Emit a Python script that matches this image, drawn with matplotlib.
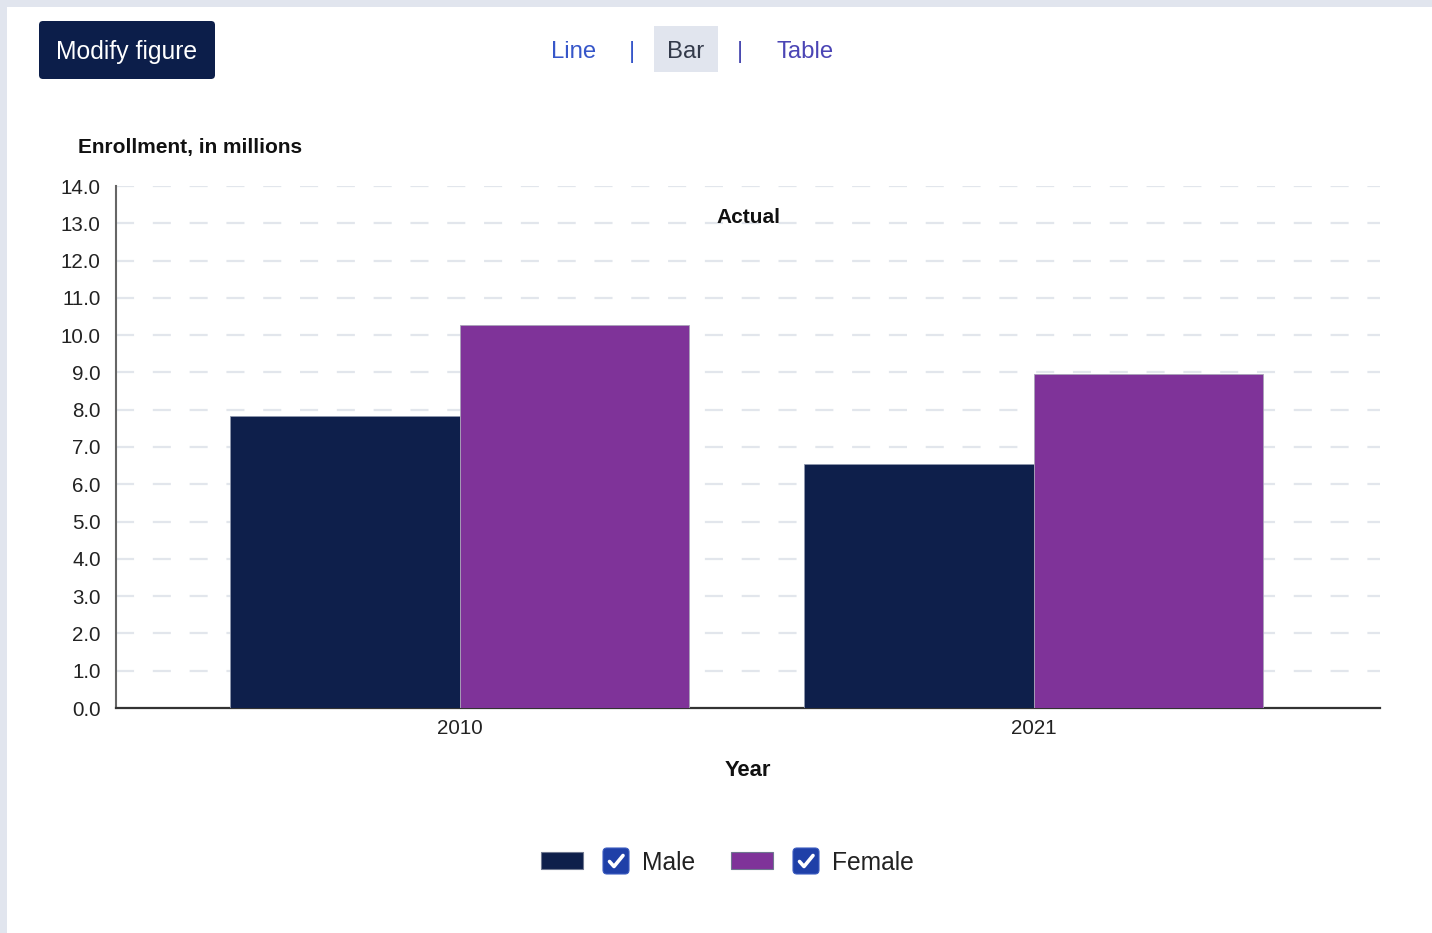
import matplotlib
matplotlib.use("Agg")
import matplotlib.pyplot as plt
from matplotlib.patches import Rectangle, FancyBboxPatch
import numpy as np

# ---- data ----
years = ["2010", "2021"]
male = [7.84, 6.54]
female = [10.26, 8.95]
series_names = ["Male", "Female"]
yticks = [0, 1, 2, 3, 4, 5, 6, 7, 8, 9, 10, 11, 12, 13, 14]

NAVY = "#0e1f4b"
PURPLE = "#7f3399"
PAGE = "#e1e5ee"
FONT = "Liberation Sans"

plt.rcParams["font.family"] = [FONT, "DejaVu Sans"]
plt.rcParams["lines.scale_dashes"] = False

W, H = 1432, 933
fig = plt.figure(figsize=(W / 100, H / 100), dpi=100, facecolor=PAGE)

# background / decoration overlay in pixel coordinates
bg = fig.add_axes([0, 0, 1, 1], zorder=0)
bg.set_xlim(0, W)
bg.set_ylim(H, 0)
bg.axis("off")
bg.add_patch(Rectangle((7, 7), W - 7, H - 7, facecolor="white", edgecolor="none"))

# Modify figure button
bg.add_patch(FancyBboxPatch((39, 21), 176, 58, boxstyle="round,pad=0,rounding_size=4",
                            facecolor="#0c1e4a", edgecolor="none"))
bg.text(127, 52, "Modify figure", color="white", fontsize=17.8, ha="center", va="center")

# nav
bg.add_patch(Rectangle((654, 26), 64, 46, facecolor=PAGE, edgecolor="none"))
bg.text(574, 52, "Line", color="#3656c9", fontsize=17.2, ha="center", va="center")
bg.text(632, 52, "|", color="#3656c9", fontsize=17, ha="center", va="center")
bg.text(686, 52, "Bar", color="#333a4a", fontsize=17.2, ha="center", va="center")
bg.text(740, 52, "|", color="#4a4ab0", fontsize=17, ha="center", va="center")
bg.text(805, 52, "Table", color="#4b45b5", fontsize=17.2, ha="center", va="center")

# main axes
L, R, T, B = 116, 1380, 186, 708
ax = fig.add_axes([L / W, (H - B) / H, (R - L) / W, (B - T) / H], zorder=1)
x = np.arange(len(years))
w = 0.4
ax.bar(x - w / 2, male, w, color=NAVY, edgecolor="#8e97ad", linewidth=0.6, zorder=3)
ax.bar(x + w / 2, female, w, color=PURPLE, edgecolor="#a9a3b8", linewidth=0.6, zorder=3)
ax.set_xlim(-0.599, 1.603)
ax.set_ylim(0, 14)
ax.set_yticks(yticks)
ax.set_yticklabels([f"{v:.1f}" for v in yticks])
ax.set_xticks(x)
ax.set_xticklabels(years)
ax.tick_params(axis="both", length=0, labelsize=14.8, colors="#222222")
ax.tick_params(axis="y", pad=11)
ax.tick_params(axis="x", pad=8)
for v in yticks[1:]:
    ax.axhline(v, color="#e2e6ec", linewidth=1.6, dashes=(13, 13.5), zorder=1)
for s in ["top", "right"]:
    ax.spines[s].set_visible(False)
ax.spines["left"].set_color("#666666")
ax.spines["left"].set_linewidth(1.5)
ax.spines["bottom"].set_color("#333333")
ax.spines["bottom"].set_linewidth(1.6)
ax.text(0.5, 0.94, "Actual", transform=ax.transAxes, ha="center", va="center",
        fontsize=15, fontweight="bold", color="#111111")

fig.text(78 / W, 1 - 148 / H, "Enrollment, in millions", ha="left", va="center",
         fontsize=15, fontweight="bold", color="#111111")
fig.text(748 / W, 1 - 771 / H, "Year", ha="center", va="center",
         fontsize=15.8, fontweight="bold", color="#111111")

# legend
def checkbox(x0, y0):
    bg.add_patch(FancyBboxPatch((x0, y0), 26, 26, boxstyle="round,pad=0,rounding_size=4",
                                facecolor="#1f40a8", edgecolor="#3c5cc0", linewidth=0.8))
    bg.plot([x0 + 6.5, x0 + 11, x0 + 20], [y0 + 13.5, y0 + 18.5, y0 + 7.5],
            color="white", linewidth=2.6, solid_capstyle="round", solid_joinstyle="round")

entries = [(541, NAVY, 603, 642, series_names[0]), (731, PURPLE, 793, 832, series_names[1])]
for sx, col, cx, tx, name in entries:
    bg.add_patch(Rectangle((sx, 852), 42, 17, facecolor=col, edgecolor="#6f7890", linewidth=0.8))
    checkbox(cx, 848)
    bg.text(tx, 863, name, fontsize=17.7, ha="left", va="center", color="#222222")

fig.savefig("out.png", dpi=100, facecolor=PAGE)
